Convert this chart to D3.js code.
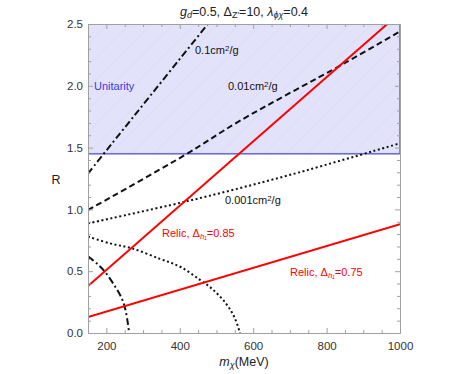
<!DOCTYPE html>
<html>
<head>
<meta charset="utf-8">
<script src="https://cdn.jsdelivr.net/npm/d3@7"></script>
<style>
  body { margin: 0; background: #fff; }
  svg { font-family: "Liberation Sans", Arial, sans-serif; }
</style>
</head>
<body>
<svg width="467" height="374"></svg>
<script>
var svg = d3.select("svg");

// axis ticks
var xMajor = [200, 400, 600, 800, 1000],
    yMajor = [0, 0.5, 1.0, 1.5, 2.0, 2.5];

// unitarity bound
var unitarityR = 1.45;

// relic lines [m, R]
var relic85 = [[150, 0.38], [1000, 2.59]];
var relic75 = [[150, 0.13], [1000, 0.88]];

// self-interaction cross section contours
var sig01 = [[150, 1.29], [201, 1.48], [482, 2.52]];
var sig001 = [[150, 0.995], [414, 1.44], [560, 1.71], [850, 2.185], [1000, 2.44]];
var sig0001 = [[150, 0.887], [414, 1.062], [701, 1.28], [1000, 1.535]];

// arcs
var arcSmall = [[150, 0.62], [175, 0.56], [196, 0.496], [224, 0.375], [242, 0.28],
                [251, 0.2], [258, 0.09], [262, 0]];
var arcBig = [[150, 0.78], [210, 0.725], [269, 0.685], [346, 0.60], [401, 0.536],
              [455, 0.43], [491, 0.35], [528, 0.23], [550, 0.12], [564, 0]];

var pLeft = 88, pRight = 400, pTop = 24, pBottom = 333;

var x = d3.scaleLinear().domain([150, 1000]).range([pLeft, pRight]);
var y = d3.scaleLinear().domain([0, 2.5]).range([pBottom, pTop]);

svg.append("clipPath").attr("id", "clip")
   .append("rect")
   .attr("x", pLeft).attr("y", pTop)
   .attr("width", pRight - pLeft).attr("height", pBottom - pTop);

var plot = svg.append("g").attr("clip-path", "url(#clip)");

// unitarity region
plot.append("rect")
    .attr("x", x(150))
    .attr("y", y(2.5))
    .attr("width", x(1000) - x(150))
    .attr("height", y(unitarityR) - y(2.5))
    .attr("fill", "#e2e2fb");

// faint mesh inside the region
var meshG = plot.append("g")
    .attr("stroke", "#cfcff2")
    .attr("stroke-width", 0.6)
    .attr("opacity", 0.6);
d3.range(-12, 20).forEach(function(i) {
    var x0 = pLeft + i * 22;
    meshG.append("line")
        .attr("x1", x0).attr("y1", y(unitarityR))
        .attr("x2", x0 + (y(unitarityR) - y(2.5))).attr("y2", y(2.5));
});

plot.append("rect")
    .attr("x", x(150))
    .attr("y", y(2.5))
    .attr("width", x(1000) - x(150))
    .attr("height", y(unitarityR) - y(2.5))
    .attr("fill", "none")
    .attr("stroke", "#6b6be6")
    .attr("stroke-width", 1.6);

var line = d3.line()
    .x(function(d) { return x(d[0]); })
    .y(function(d) { return y(d[1]); });
var smooth = d3.line()
    .x(function(d) { return x(d[0]); })
    .y(function(d) { return y(d[1]); })
    .curve(d3.curveCatmullRom.alpha(0.5));

function draw(data, gen, color, dash) {
    plot.append("path")
        .datum(data)
        .attr("d", gen)
        .attr("fill", "none")
        .attr("stroke", color)
        .attr("stroke-width", 2)
        .attr("stroke-dasharray", dash);
}

draw(arcBig, smooth, "#111", "2,2.6");
draw(arcSmall, smooth, "#111", "7,3,2,3");
draw(sig0001, smooth, "#111", "2,2.6");
draw(sig001, smooth, "#111", "6,3.5");
draw(sig01, smooth, "#111", "7,3,2,3");
draw(relic75, line, "#ff0000", null);
draw(relic85, line, "#ff0000", null);

// frame and ticks
var frameColor = "#a0a0a0";
function styleAxis(g) {
    g.select(".domain").attr("stroke", frameColor);
    g.selectAll(".tick line").attr("stroke", frameColor);
    g.selectAll("text")
        .attr("font-size", "11.5px")
        .attr("fill", "#333")
        .attr("font-family", "Liberation Sans, Arial, sans-serif");
}

var xMinor = d3.range(150, 1001, 50).filter(function(v) { return xMajor.indexOf(v) < 0; });
var yMinor = d3.range(0, 26).map(function(v) { return v / 10; })
    .filter(function(v) { return yMajor.indexOf(v) < 0; });

svg.append("g").attr("transform", "translate(0," + pBottom + ")")
   .call(d3.axisBottom(x).tickValues(xMajor).tickSize(-5).tickPadding(9)
         .tickFormat(d3.format("d")).tickSizeOuter(0))
   .call(styleAxis);
svg.append("g").attr("transform", "translate(0," + pBottom + ")")
   .call(d3.axisBottom(x).tickValues(xMinor).tickSize(-3).tickFormat("").tickSizeOuter(0))
   .call(styleAxis);
svg.append("g").attr("transform", "translate(0," + pTop + ")")
   .call(d3.axisTop(x).tickValues(xMajor).tickSize(-5).tickFormat("").tickSizeOuter(0))
   .call(styleAxis);
svg.append("g").attr("transform", "translate(0," + pTop + ")")
   .call(d3.axisTop(x).tickValues(xMinor).tickSize(-3).tickFormat("").tickSizeOuter(0))
   .call(styleAxis);

svg.append("g").attr("transform", "translate(" + pLeft + ",0)")
   .call(d3.axisLeft(y).tickValues(yMajor).tickSize(-5).tickPadding(5)
         .tickFormat(d3.format(".1f")).tickSizeOuter(0))
   .call(styleAxis);
svg.append("g").attr("transform", "translate(" + pLeft + ",0)")
   .call(d3.axisLeft(y).tickValues(yMinor).tickSize(-3).tickFormat("").tickSizeOuter(0))
   .call(styleAxis);
svg.append("g").attr("transform", "translate(" + pRight + ",0)")
   .call(d3.axisRight(y).tickValues(yMajor).tickSize(-5).tickFormat("").tickSizeOuter(0))
   .call(styleAxis);
svg.append("g").attr("transform", "translate(" + pRight + ",0)")
   .call(d3.axisRight(y).tickValues(yMinor).tickSize(-3).tickFormat("").tickSizeOuter(0))
   .call(styleAxis);

// labels
function label(px, py, parts, color, anchor, size) {
    var t = svg.append("text")
        .attr("x", px).attr("y", py)
        .attr("fill", color)
        .attr("font-size", size + "px")
        .attr("text-anchor", anchor || "start");
    parts.forEach(function(p) {
        var s = t.append("tspan").text(p.t);
        if (p.i) s.attr("font-style", "italic");
        if (p.sub) s.attr("baseline-shift", "-25%").attr("font-size", (size * 0.72) + "px");
        if (p.sup) s.attr("baseline-shift", "40%").attr("font-size", (size * 0.72) + "px");
    });
    return t;
}

label(244, 16, [{t: "g", i: 1}, {t: "d", i: 1, sub: 1}, {t: "=0.5, Δ"}, {t: "Z′", sub: 1},
                {t: "=10, "}, {t: "λ", i: 1}, {t: "ϕχ", i: 1, sub: 1}, {t: "=0.4"}],
      "#222", "middle", 12.5);

label(56, 184, [{t: "R"}], "#222", "middle", 12.5);
label(244, 366, [{t: "m", i: 1}, {t: "χ", i: 1, sub: 1}, {t: "(MeV)"}], "#222", "middle", 12.5);

label(94, 90, [{t: "Unitarity"}], "#3b3be6", "start", 11);
label(195, 54, [{t: "0.1cm"}, {t: "2", sup: 1}, {t: "/g"}], "#111", "start", 11);
label(228, 90, [{t: "0.01cm"}, {t: "2", sup: 1}, {t: "/g"}], "#111", "start", 11);
label(225, 204, [{t: "0.001cm"}, {t: "2", sup: 1}, {t: "/g"}], "#111", "start", 11);
label(162, 237, [{t: "Relic, Δ"}, {t: "h₁", i: 1, sub: 1}, {t: "=0.85"}], "#ff0000", "start", 11);
label(290, 276, [{t: "Relic, Δ"}, {t: "h₁", i: 1, sub: 1}, {t: "=0.75"}], "#ff0000", "start", 11);
</script>
</body>
</html>
